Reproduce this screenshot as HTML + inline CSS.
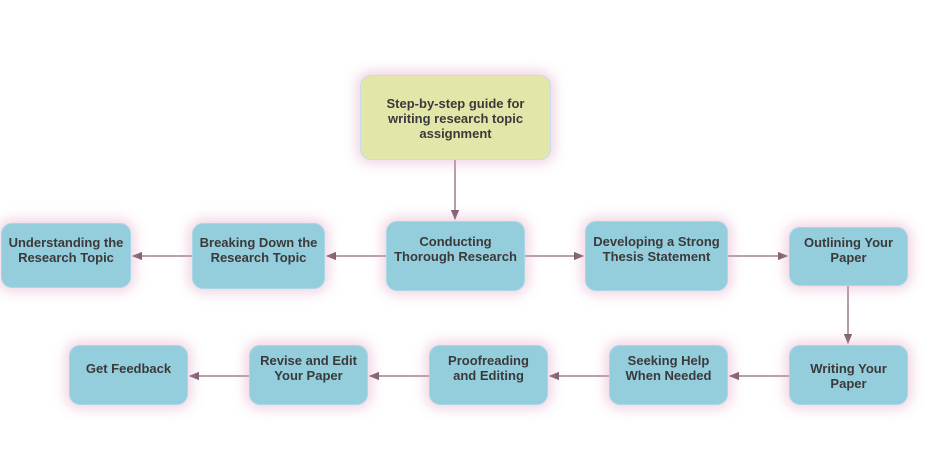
<!DOCTYPE html>
<html><head><style>
body{margin:0;width:933px;height:450px;background:#fff;position:relative;overflow:hidden;font-family:"Liberation Sans",sans-serif}
.b{position:absolute;box-sizing:border-box;background:#94cddc;border:1px solid #a8d8e6;border-radius:11px;box-shadow:0 0 12px 4px rgba(225,160,195,.45);color:#3a3a3a;font-weight:bold;font-size:13px;line-height:15px;text-align:center;padding-top:11px}
.y{background:#e3e6a9;border-color:#c8dbe8}
svg{position:absolute;left:0;top:0}
</style></head><body>
<svg width="933" height="450"><defs><marker id="a" markerWidth="8" markerHeight="8" refX="7" refY="4" orient="auto"><path d="M0,0.8 L8,4 L0,7.2z" fill="#7d5f70"/></marker></defs>
<g stroke="#8a6a7a" stroke-width="1.3" fill="none" marker-end="url(#a)">
<line x1="455" y1="160" x2="455" y2="219"/>
<line x1="386" y1="256" x2="327" y2="256"/>
<line x1="192" y1="256" x2="133" y2="256"/>
<line x1="525" y1="256" x2="583" y2="256"/>
<line x1="728" y1="256" x2="787" y2="256"/>
<line x1="848" y1="286" x2="848" y2="343"/>
<line x1="789" y1="376" x2="730" y2="376"/>
<line x1="609" y1="376" x2="550" y2="376"/>
<line x1="429" y1="376" x2="370" y2="376"/>
<line x1="249" y1="376" x2="190" y2="376"/>
</g></svg>
<div class="b y" style="left:360px;top:75px;width:191px;height:85px;padding-top:20px">Step-by-step guide for<br>writing research topic<br>assignment</div>
<div class="b" style="left:1px;top:223px;width:130px;height:65px">Understanding the<br>Research Topic</div>
<div class="b" style="left:192px;top:223px;width:133px;height:66px">Breaking Down the<br>Research Topic</div>
<div class="b" style="left:386px;top:221px;width:139px;height:70px;padding-top:12px">Conducting<br>Thorough Research</div>
<div class="b" style="left:585px;top:221px;width:143px;height:70px;padding-top:12px">Developing a Strong<br>Thesis Statement</div>
<div class="b" style="left:789px;top:227px;width:119px;height:59px;padding-top:7px">Outlining Your<br>Paper</div>
<div class="b" style="left:69px;top:345px;width:119px;height:60px;padding-top:15px">Get Feedback</div>
<div class="b" style="left:249px;top:345px;width:119px;height:60px;padding-top:7px">Revise and Edit<br>Your Paper</div>
<div class="b" style="left:429px;top:345px;width:119px;height:60px;padding-top:7px">Proofreading<br>and Editing</div>
<div class="b" style="left:609px;top:345px;width:119px;height:60px;padding-top:7px">Seeking Help<br>When Needed</div>
<div class="b" style="left:789px;top:345px;width:119px;height:60px;padding-top:15px">Writing Your<br>Paper</div>
</body></html>
